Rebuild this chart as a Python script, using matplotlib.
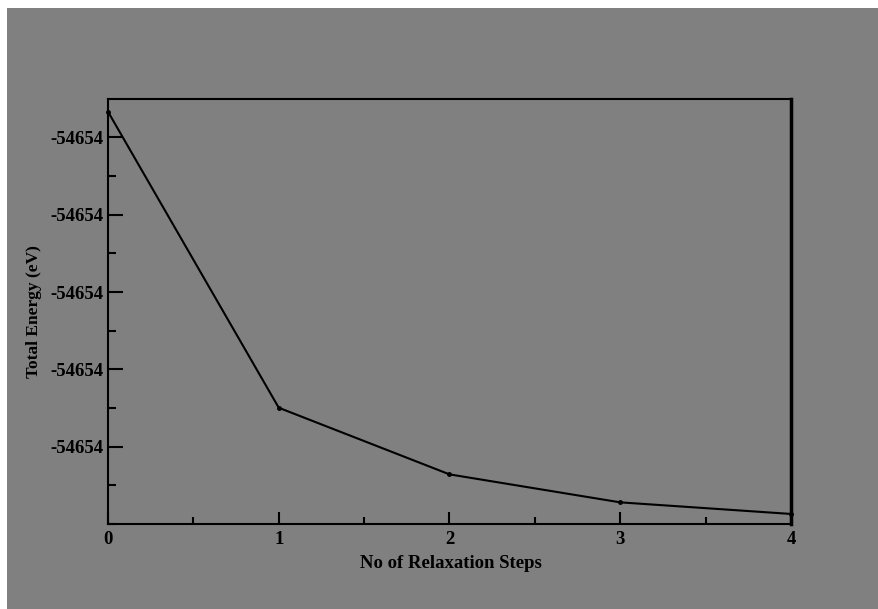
import matplotlib
matplotlib.use("Agg")
import matplotlib.pyplot as plt
from matplotlib.patches import Rectangle
from matplotlib.ticker import MultipleLocator, FormatStrFormatter

# relaxation step vs total energy (eV)
steps = [0, 1, 2, 3, 4]
energy = [-54654.2333, -54654.4248, -54654.4679, -54654.4860, -54654.4935]
y_ticks = [-54654.45, -54654.40, -54654.35, -54654.30, -54654.25]

plt.rcParams['font.family'] = ['Liberation Serif', 'DejaVu Serif']
plt.rcParams['axes.unicode_minus'] = False

W, H = 879, 609
fig = plt.figure(figsize=(W / 100, H / 100), dpi=100, facecolor='#808080')
# thin white strips at the top and left edge
fig.patches.append(Rectangle((0, 0), 7 / W, 1, transform=fig.transFigure,
                             facecolor='white', edgecolor='none', zorder=-10))
fig.patches.append(Rectangle((0, (H - 8) / H), 1, 8 / H, transform=fig.transFigure,
                             facecolor='white', edgecolor='none', zorder=-10))

ax = fig.add_axes([108 / W, (H - 524) / H, (791 - 108) / W, (524 - 99) / H])
ax.set_facecolor('#808080')

ax.plot(steps, energy, color='black', lw=1.5, marker='o', ms=2.5, clip_on=False)

ax.set_xlim(0, 4)
ax.set_ylim(-54654.50, -54654.2251)
ax.set_xticks(steps)
ax.xaxis.set_minor_locator(MultipleLocator(0.5))
ax.set_yticks(y_ticks)
ax.yaxis.set_minor_locator(MultipleLocator(0.025))
ax.yaxis.set_major_formatter(FormatStrFormatter('%.0f'))

ax.tick_params(which='both', direction='in', top=False, right=False, labelsize=13.5)
ax.tick_params(axis='x', which='major', length=9, width=1.5, pad=5)
ax.tick_params(axis='x', which='minor', length=5, width=1.5)
ax.tick_params(axis='y', which='major', length=11, width=1.5, pad=3)
ax.tick_params(axis='y', which='minor', length=6, width=1.5)
for lab in ax.get_xticklabels() + ax.get_yticklabels():
    lab.set_fontweight('bold')

for side in ['left', 'bottom', 'top']:
    ax.spines[side].set_linewidth(1.5)
ax.spines['right'].set_linewidth(2.5)

ax.set_xlabel('No of Relaxation Steps', fontsize=13.5, fontweight='bold')
ax.set_ylabel('Total Energy (eV)', fontsize=12.5, fontweight='bold')
ax.xaxis.set_label_coords(0.502, -0.073)
ax.yaxis.set_label_coords(-0.096, 0.5)

fig.savefig('out.png', dpi=100, facecolor=fig.get_facecolor())
